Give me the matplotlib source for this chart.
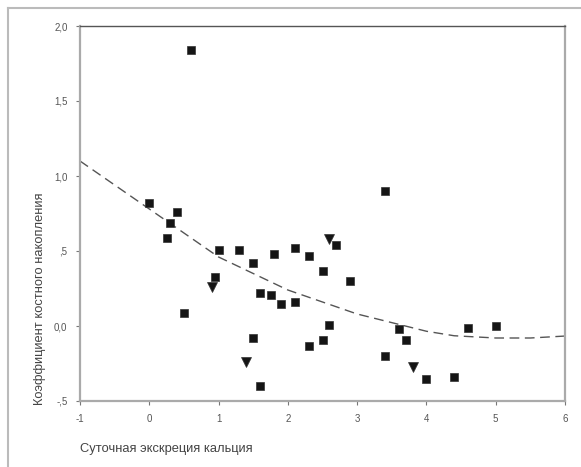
import numpy as np
import matplotlib.pyplot as plt
from matplotlib.lines import Line2D

plt.rcParams['font.family'] = ['Liberation Sans', 'DejaVu Sans']

# -----------------------------
# DATA
# -----------------------------
# squares
sq_x = [0.0, 0.25, 0.3, 0.4, 0.5, 0.6, 0.95, 1.0, 1.3, 1.5, 1.5, 1.6, 1.6, 1.75,
        1.8, 1.9, 2.1, 2.1, 2.3, 2.3, 2.5, 2.5, 2.6, 2.7, 2.9, 3.4, 3.4, 3.6,
        3.7, 4.0, 4.4, 4.6, 5.0]
sq_y = [0.82, 0.59, 0.69, 0.76, 0.09, 1.84, 0.33, 0.51, 0.51, 0.42, -0.08, 0.22,
        -0.40, 0.21, 0.48, 0.15, 0.52, 0.16, 0.47, -0.13, 0.37, -0.09, 0.01,
        0.54, 0.30, 0.90, -0.20, -0.02, -0.09, -0.35, -0.34, -0.01, 0.0]

# triangles
tri_x = [0.9, 1.4, 2.6, 3.8]
tri_y = [0.26, -0.24, 0.58, -0.27]

# dashed fit curve
fit_x = [-1, 0, 1, 2, 3, 4, 4.4, 5, 5.5, 6]
fit_y = [1.10, 0.78, 0.46, 0.24, 0.08, -0.035, -0.065, -0.08, -0.08, -0.067]

xticks = [-1, 0, 1, 2, 3, 4, 5, 6]
yticks = [-0.5, 0.0, 0.5, 1.0, 1.5, 2.0]
ytick_labels = ['-,5', '0,0', ',5', '1,0', '1,5', '2,0']

# -----------------------------
# PLOT
# -----------------------------
fig = plt.figure(figsize=(5.81, 4.67), dpi=100)
ax = fig.add_axes([80/581, 66/467, 485/581, 375/467])

ax.plot(fit_x, fit_y, color='#555555', lw=1.0, dashes=(7, 4))
ax.plot(sq_x, sq_y, 's', color='#151515', markersize=6.3, markeredgecolor='#333333',
        markeredgewidth=0.5, linestyle='none')
ax.plot(tri_x, tri_y, 'v', color='#151515', markersize=6.5, markeredgecolor='#333333',
        markeredgewidth=0.5, linestyle='none')

ax.set_xlim(-1, 6)
ax.set_ylim(-0.5, 2.0)
ax.set_xticks(xticks)
ax.set_xticklabels([str(t) for t in xticks])
ax.set_yticks(yticks)
ax.set_yticklabels(ytick_labels)
ax.tick_params(axis='both', direction='out', length=3, width=0.8, color='#777777',
               labelsize=7, labelcolor='#555555', pad=6)

for side in ['left', 'bottom', 'right']:
    ax.spines[side].set_color('#aaaaaa')
    ax.spines[side].set_linewidth(1.6)
ax.spines['top'].set_color('#555555')
ax.spines['top'].set_linewidth(1.0)

fig.text(40/581, 1 - 405/467, 'Коэффициент костного накопления', rotation=90,
         ha='center', va='bottom', fontsize=9.3, color='#444444')
fig.text(80/581, 1 - 449/467, 'Суточная экскреция кальция', ha='left', va='center',
         fontsize=9.3, color='#444444')

# outer frame (only top and left visible)
fig.add_artist(Line2D([8/581, 1], [1 - 8/467, 1 - 8/467], transform=fig.transFigure,
                      color='#bbbbbb', lw=1.5))
fig.add_artist(Line2D([8/581, 8/581], [0, 1 - 8/467], transform=fig.transFigure,
                      color='#bbbbbb', lw=1.5))

fig.savefig('out.png', dpi=100)
